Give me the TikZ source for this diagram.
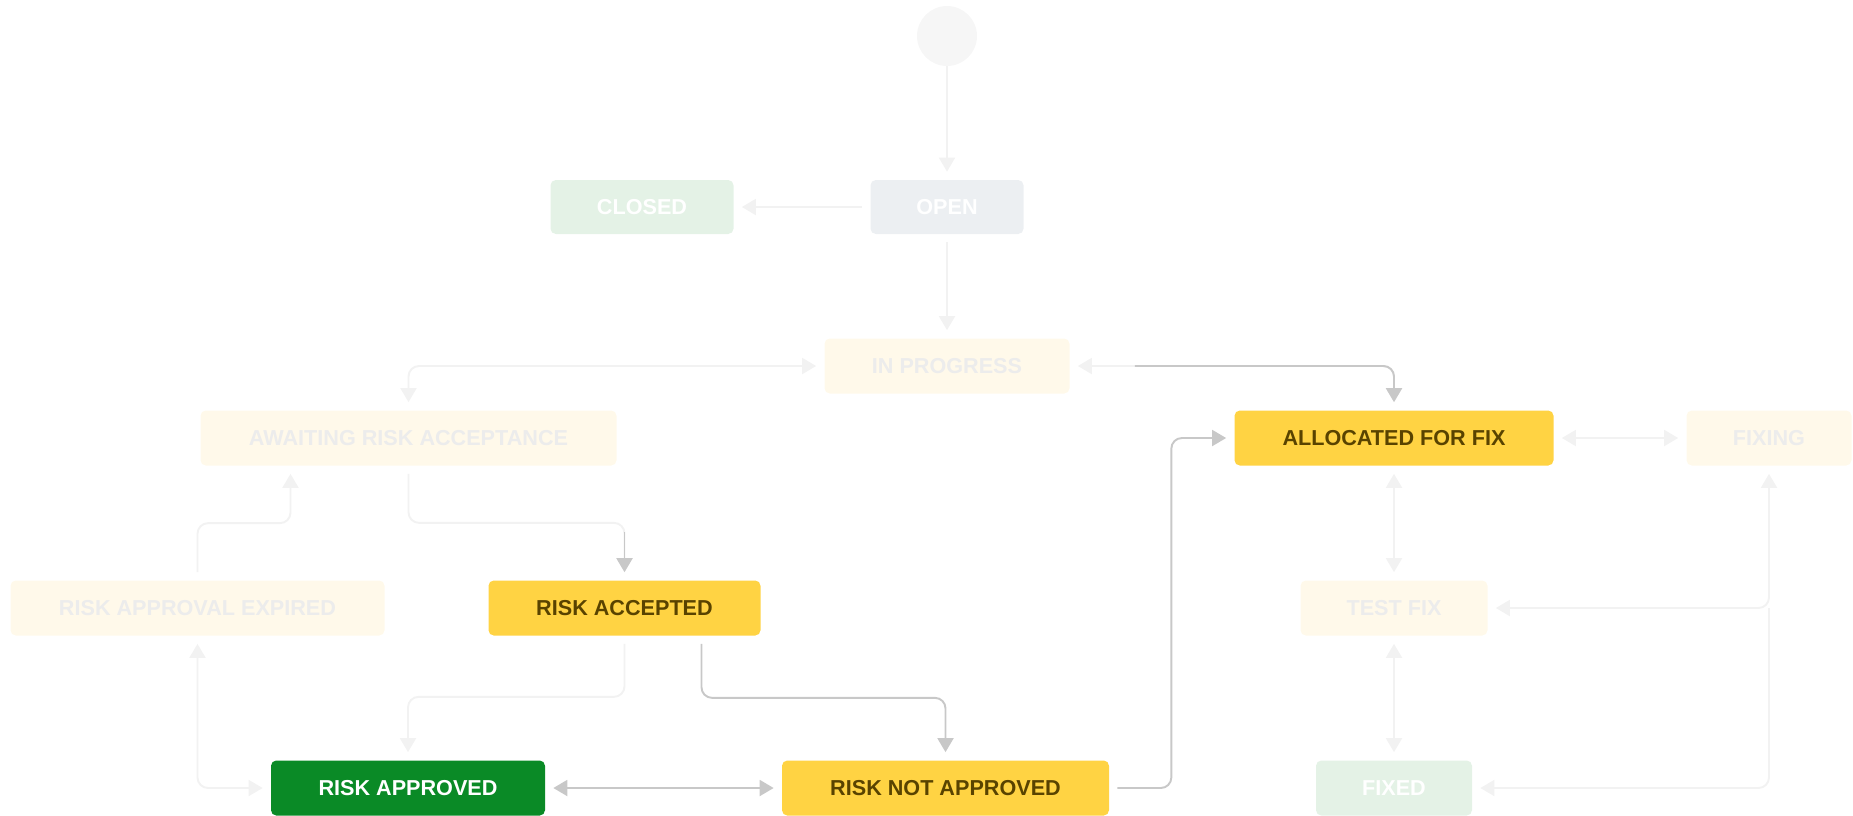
\documentclass[tikz,border=0pt]{standalone}
\usepackage{fontspec}
\setmainfont{Liberation Sans}
\usepackage{tikz}
\usetikzlibrary{shapes.geometric, arrows.meta}
\definecolor{hotyellow}{HTML}{FFD343}
\definecolor{hotbrown}{HTML}{594300}
\definecolor{donegreen}{HTML}{0A8A26}
\definecolor{fadeyellow}{HTML}{FFF9EA}
\definecolor{fadegreen}{HTML}{E4F2E6}
\definecolor{fadegrey}{HTML}{ECEFF2}
\definecolor{fadetext}{HTML}{ECECEC}
\definecolor{fadeline}{HTML}{F2F2F2}
\definecolor{hotline}{HTML}{C8C8C8}
\definecolor{startgrey}{HTML}{F6F6F6}
\tikzstyle{status}     = [rectangle, rounded corners=3pt, minimum height=1.1cm, inner sep=0pt, text centered, font=\fontsize{12.3}{14}\selectfont\bfseries]
\tikzstyle{hot}        = [status, fill=hotyellow, text=hotbrown]
\tikzstyle{done}       = [status, fill=donegreen, text=white]
\tikzstyle{faint}      = [status, fill=fadeyellow, text=fadetext]
\tikzstyle{faintgreen} = [status, fill=fadegreen, text=white]
\tikzstyle{faintgrey}  = [status, fill=fadegrey, text=white]
\tikzstyle{startpoint} = [circle, minimum size=1.2cm, fill=startgrey]
\tikzstyle{fadearrow}  = [line width=1.1pt, draw=fadeline, rounded corners=6pt, shorten >=0.16cm, shorten <=0.16cm, ->, >={Triangle[length=0.28cm, width=0.32cm]}]
\tikzstyle{fadeboth}   = [fadearrow, <->]
\tikzstyle{hotarrow}   = [fadearrow, draw=hotline]
\tikzstyle{hotboth}    = [hotarrow, <->]

\begin{document}
\begin{tikzpicture}

    \useasboundingbox (0,0) rectangle (37.06,-16.30);

    \node (start)       [startpoint] at (18.94,-0.72) {};
    \node (open)        [faintgrey, minimum width=3.06cm, minimum height=1.08cm, node distance=3.42cm, below of=start] {OPEN};
    \node (closed)      [faintgreen, minimum width=3.66cm, minimum height=1.08cm, node distance=6.10cm, left of=open] {CLOSED};
    \node (inprog)      [faint, minimum width=4.9cm, node distance=3.18cm, below of=open]         {IN PROGRESS};
    \node (allocated)   [hot, minimum width=6.38cm, node distance=1.44cm, below of=inprog, xshift=8.94cm] {ALLOCATED FOR FIX};
    \node (awaiting)    [faint, minimum width=8.32cm, node distance=19.71cm, left of=allocated]  {AWAITING RISK ACCEPTANCE};
    \node (fixing)      [faint, minimum width=3.3cm, node distance=7.5cm, right of=allocated]    {FIXING};
    \node (testfix)     [faint, minimum width=3.74cm, node distance=3.4cm, below of=allocated]   {TEST FIX};
    \node (accepted)    [hot, minimum width=5.44cm, node distance=15.39cm, left of=testfix]      {RISK ACCEPTED};
    \node (expired)     [faint, minimum width=7.48cm, node distance=8.54cm, left of=accepted]    {RISK APPROVAL EXPIRED};
    \node (fixed)       [faintgreen, minimum width=3.12cm, node distance=3.6cm, below of=testfix] {FIXED};
    \node (notapproved) [hot, minimum width=6.54cm, node distance=8.97cm, left of=fixed]         {RISK NOT APPROVED};
    \node (approved)    [done, minimum width=5.48cm, node distance=10.75cm, left of=notapproved] {RISK APPROVED};

    \coordinate (ipbend)  at ([xshift=1.3cm]inprog.east);
    \coordinate (acctop)  at ([yshift=0.96cm]accepted.north);

    \draw [fadearrow, shorten <=0pt] (start) -- (open);
    \draw [fadearrow] (open) -- (closed);
    \draw [fadearrow] (open) -- (inprog);
    \draw [fadeboth] (inprog.west) -| (awaiting.north);
    \draw [fadeboth] (inprog.east) -| (allocated.north);
    \draw [hotarrow, shorten <=0pt] (ipbend) -| (allocated.north);
    \draw [fadearrow] (awaiting.south) -- ++(0,-1.14) -| (accepted.north);
    \draw [hotarrow, shorten <=0pt] (acctop) -- (accepted.north);
    \draw [fadearrow] (expired.north) -- ++(0,1.14) -| ([xshift=-2.36cm]awaiting.south);
    \draw [fadearrow] (accepted.south) -- ++(0,-1.22) -| (approved.north);
    \draw [hotarrow] ([xshift=1.54cm]accepted.south) -- ++(0,-1.24) -| (notapproved.north);
    \draw [fadeboth] (expired.south) |- (approved.west);
    \draw [hotboth] (approved) -- (notapproved);
    \draw [hotarrow] (notapproved.east) -- ++(1.24,0) |- (allocated.west);
    \draw [fadeboth] (allocated) -- (fixing);
    \draw [fadeboth] (allocated) -- (testfix);
    \draw [fadeboth] (testfix) -- (fixed);
    \draw [fadeboth] (testfix.east) -| (fixing.south);
    \draw [fadearrow, shorten <=0pt] (testfix.east -| fixing.south) |- (fixed.east);

\end{tikzpicture}
\end{document}
